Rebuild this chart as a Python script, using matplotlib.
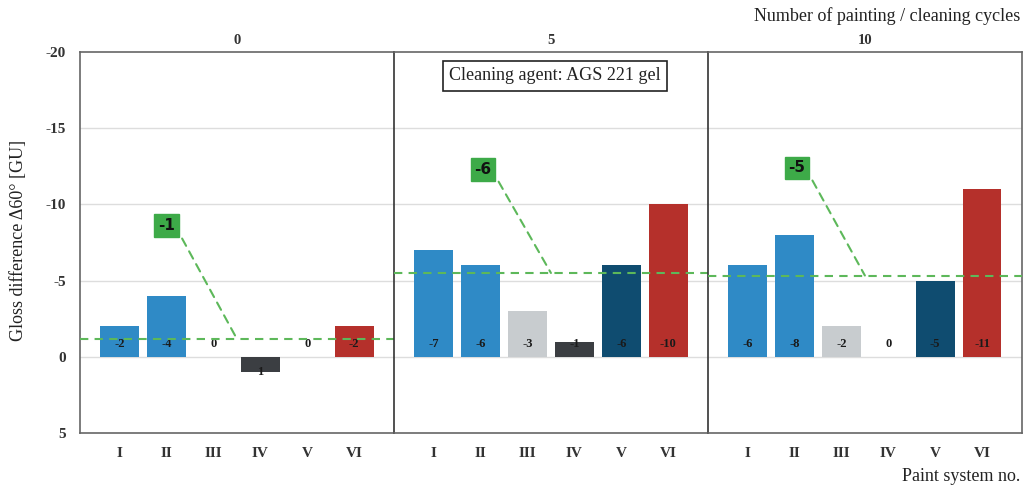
import matplotlib.pyplot as plt
import numpy as np

# data
cycles = ["0", "5", "10"]
systems = ["I", "II", "III", "IV", "V", "VI"]
gloss_0 = [-2, -4, 0, 1, 0, -2]
gloss_5 = [-7, -6, -3, -1, -6, -10]
gloss_10 = [-6, -8, -2, 0, -5, -11]
panels = [gloss_0, gloss_5, gloss_10]

colors = ["#2F8AC6", "#2F8AC6", "#C8CCCF", "#3B3E42", "#0F4C70", "#B5302B"]
green = "#3DAA48"
line_green = "#5DB85A"
serif = "Liberation Serif"

fig = plt.figure(figsize=(10.27, 4.90), dpi=100)
gs = fig.add_gridspec(1, 3, left=0.0779, right=0.995, bottom=0.1163, top=0.8939, wspace=0)
axes = [fig.add_subplot(gs[0, i]) for i in range(3)]

# where the mean callout box sits (x index, y value)
callout_pos = [(1.0, -8.6), (1.05, -12.3), (1.05, -12.4)]

x = np.arange(len(systems))
for p, (ax, vals) in enumerate(zip(axes, panels)):
    ax.bar(x, vals, width=0.83, color=colors, zorder=2)
    ax.set_xlim(-0.85, 5.85)
    ax.set_ylim(5, -20)
    ax.set_yticks([-20, -15, -10, -5, 0, 5])
    for yv in [-15, -10, -5, 0]:
        ax.axhline(yv, color="#DDDDDD", lw=1, zorder=0)
    ax.set_xticks(x)
    ax.set_xticklabels(systems, fontfamily=serif, fontsize=11, fontweight="bold", color="#333333")
    ax.tick_params(length=0, pad=10)
    ax.set_title(cycles[p], fontfamily=serif, fontsize=10.5, fontweight="bold", color="#333333", pad=6)
    if p == 0:
        ax.set_yticklabels([str(t) for t in [-20, -15, -10, -5, 0, 5]], fontfamily=serif,
                           fontsize=11, fontweight="bold", color="#333333")
    else:
        ax.set_yticklabels([])

    for spine in ax.spines.values():
        spine.set_color("#666666")
        spine.set_linewidth(1.2)
    if p > 0:
        ax.spines["left"].set_color("#333333")
    if p < 2:
        ax.spines["right"].set_visible(False)

    # value labels near the zero line
    for xi, v in zip(x, vals):
        ty = 1.0 if v > 0 else -0.85
        ax.text(xi, ty, str(v), ha="center", va="center", fontsize=9, fontfamily=serif,
                fontweight="bold", color="#1A1A1A", zorder=3)

    # mean line + callout
    mean = np.mean(vals)
    ax.axhline(mean, color=line_green, lw=1.5, ls=(0, (4, 3)), zorder=3)
    cx, cy = callout_pos[p]
    ax.annotate(str(int(np.round(mean))), xy=(2.5, mean), xytext=(cx, cy),
                ha="center", va="center", fontsize=11, fontfamily="DejaVu Sans",
                fontweight="bold", color="#111111",
                bbox=dict(boxstyle="square,pad=0.25", fc=green, ec=green),
                arrowprops=dict(arrowstyle="-", ls=(0, (4, 3)), color=line_green, lw=1.5,
                                shrinkA=4, shrinkB=0, relpos=(1, 0.5)),
                zorder=4)

axes[1].text(0.513, 0.937, "Cleaning agent: AGS 221 gel", transform=axes[1].transAxes,
             ha="center", va="center", fontfamily=serif, fontsize=13, color="#222222",
             bbox=dict(boxstyle="square,pad=0.35", fc="white", ec="#222222", lw=1.2), zorder=5)

fig.text(0.993, 0.967, "Number of painting / cleaning cycles", ha="right", va="center",
         fontfamily=serif, fontsize=13, color="#222222")
fig.text(0.993, 0.027, "Paint system no.", ha="right", va="center",
         fontfamily=serif, fontsize=13, color="#222222")
fig.text(0.018, 0.51, "Gloss difference \u039460\u00b0 [GU]", rotation=90, ha="center", va="center",
         fontfamily=serif, fontsize=13, color="#222222")

fig.savefig("out.png", dpi=100)
